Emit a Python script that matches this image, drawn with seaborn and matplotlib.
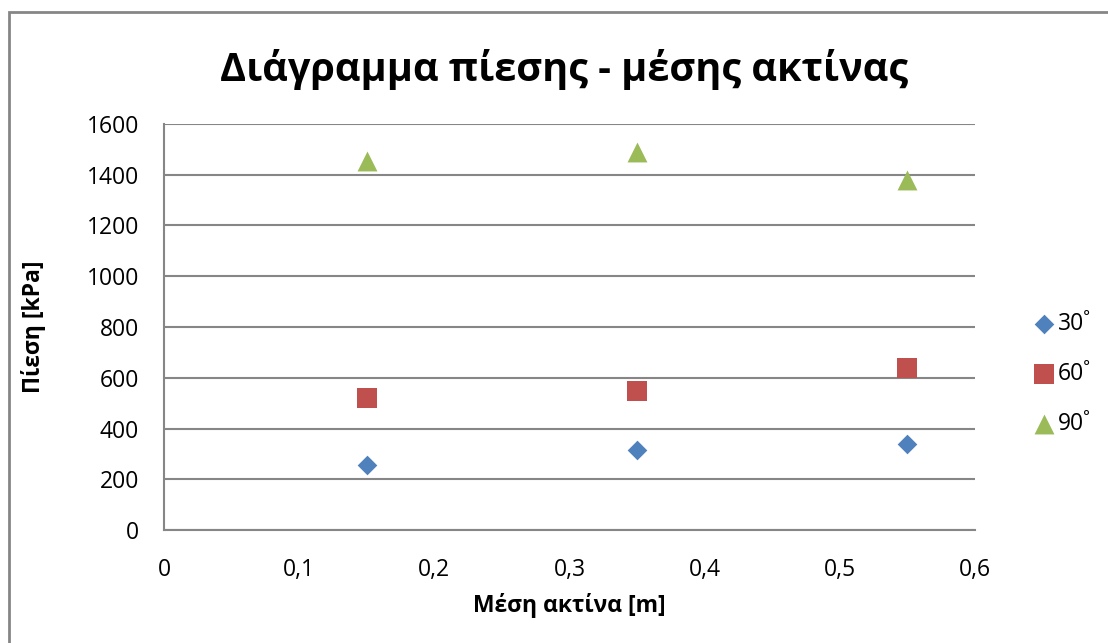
import matplotlib
matplotlib.use("Agg")
import matplotlib.pyplot as plt
from matplotlib.patches import Rectangle
from matplotlib.ticker import FuncFormatter, MultipleLocator
import pandas as pd
import seaborn as sns

# Mean radius [m] and measured pressure [kPa] per angle
radius = [0.15, 0.35, 0.55]
p_30 = [255, 315, 337]
p_60 = [520, 548, 638]
p_90 = [1455, 1488, 1380]
series_labels = ["30˚", "60˚", "90˚"]

title = "Διάγραμμα πίεσης - μέσης ακτίνας"
xlabel = "Μέση ακτίνα [m]"
ylabel = "Πίεση [kPa]"

sns.set_style("white")
plt.rcParams["font.family"] = ["Open Sans", "DejaVu Sans"]
plt.rcParams["text.color"] = "black"

W, H = 1108, 643
fig = plt.figure(figsize=(W / 100, H / 100), dpi=100)
ax = fig.add_axes([164 / W, 1 - 530 / H, (975 - 164) / W, (530 - 124) / H])

grid_c = "#868686"
styles = [
    (p_30, "D", "#4F81BD", 100),
    (p_60, "s", "#C0504D", 205),
    (p_90, "^", "#9BBB59", 205),
]
for (vals, mk, col, s), lab in zip(styles, series_labels):
    df = pd.DataFrame({"r": radius, "p": vals})
    sns.scatterplot(data=df, x="r", y="p", marker=mk, color=col, s=s,
                    linewidth=0, ax=ax, label=lab, zorder=3)

ax.set_xlim(0, 0.6)
ax.set_ylim(0, 1600)
ax.xaxis.set_major_locator(MultipleLocator(0.1))
ax.yaxis.set_major_locator(MultipleLocator(200))
ax.xaxis.set_major_formatter(FuncFormatter(
    lambda v, _: "0" if abs(v) < 1e-9 else f"{v:.1f}".replace(".", ",")))
ax.yaxis.set_major_formatter(FuncFormatter(lambda v, _: f"{v:.0f}"))
ax.set_xlabel("")
ax.set_ylabel("")

ax.grid(axis="y", color=grid_c, linewidth=1.5)
ax.grid(axis="x", visible=False)
ax.set_axisbelow(True)
for side in ["top", "right"]:
    ax.spines[side].set_visible(False)
for side in ["left", "bottom"]:
    ax.spines[side].set_color(grid_c)
    ax.spines[side].set_linewidth(1.5)

ax.tick_params(axis="both", length=0, labelsize=16.5, colors="black")
ax.tick_params(axis="y", pad=18)
ax.tick_params(axis="x", pad=20)

fig.text(564 / W, 1 - 70 / H, title, ha="center", va="center",
         fontsize=28.5, fontweight="bold", color="black")
fig.text(569 / W, 1 - 605 / H, xlabel, ha="center", va="center",
         fontsize=16.5, fontweight="bold", color="black")
fig.text(33 / W, 1 - 327 / H, ylabel, ha="center", va="center",
         fontsize=16.5, fontweight="bold", rotation=90, color="black")

leg = ax.legend(loc="center left", bbox_to_anchor=(1019 / W, 1 - 374 / H),
                bbox_transform=fig.transFigure, frameon=False, fontsize=16.5,
                labelspacing=1.15, handletextpad=0.0, borderpad=0,
                handlelength=1.2)
for t in leg.get_texts():
    t.set_color("black")

# Chart area border
fig.patches.append(Rectangle((9 / W, -0.1), 2, 1 - 12 / H + 0.1,
                             transform=fig.transFigure, fill=False,
                             edgecolor=grid_c, linewidth=2))

fig.savefig("out.png", dpi=100)
